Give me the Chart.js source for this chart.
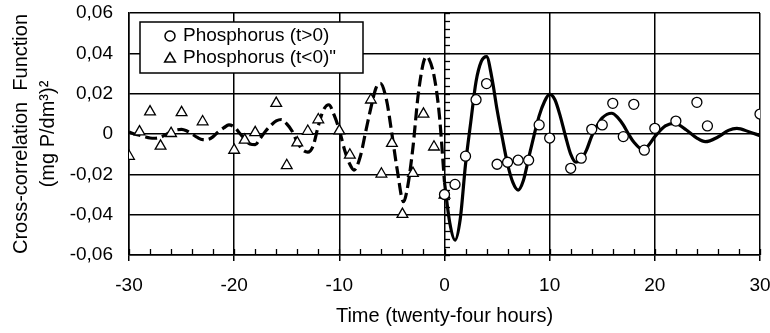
<!DOCTYPE html>
<html><head><meta charset="utf-8">
<script src="https://cdn.jsdelivr.net/npm/chart.js@4/dist/chart.umd.min.js"></script>
<style>html,body{margin:0;padding:0;background:#fff}#wrap{width:770px;height:333px}</style>
</head><body><div id="wrap"><canvas id="c" width="770" height="333"></canvas></div>
<script>
// ---- data ----
const curvePosX = [0,0.5,1,1.5,2,2.5,3,3.5,4,4.5,5,5.5,6,6.5,7,7.5,8,8.5,9,9.5,10,10.5,11,11.5,12,12.5,13,13.5,14,14.5,15,15.9,16.5,17,17.5,18,18.9,19.5,20,21,21.9,23,24,24.8,26,27,27.8,29,30];
const curvePosY = [-0.024,-0.044,-0.0526,-0.042,-0.015,0.006,0.026,0.036,0.0384,0.028,0.012,-0.002,-0.015,-0.024,-0.0278,-0.023,-0.012,-0.001,0.009,0.016,0.0198,0.017,0.009,-0.001,-0.010,-0.014,-0.0125,-0.008,-0.001,0.004,0.008,0.0103,0.008,0.0045,0.0,-0.004,-0.0079,-0.005,-0.0013,0.004,0.0053,0.002,-0.002,-0.0038,-0.0015,0.0018,0.0028,0.001,-0.0008];
const curveNegX = [-30,-29.5,-29,-28.5,-28,-27.5,-27,-26.5,-26,-25.5,-25,-24.5,-24,-23.5,-23,-22.5,-22,-21.5,-21,-20.5,-20,-19.5,-19,-18.5,-18,-17.5,-17,-16.5,-16,-15.5,-15,-14.5,-14,-13.5,-13,-12.5,-12,-11.5,-11,-10.5,-10,-9.5,-9,-8.6,-8,-7.5,-7,-6.5,-6.1,-5.5,-5,-4.5,-3.9,-3.5,-3,-2.5,-2,-1.7,-1.5,-1,-0.5,0];
const curveNegY = [0.001,0.0,-0.0006,-0.0014,-0.002,-0.0021,-0.0016,-0.0003,0.0011,0.002,0.0023,0.0015,0.0,-0.0017,-0.0028,-0.0027,-0.0013,0.0011,0.003,0.0045,0.0035,0.0005,-0.0025,-0.005,-0.0053,-0.002,0.0015,0.0043,0.0065,0.0072,0.005,0.0015,-0.004,-0.0078,-0.009,-0.006,0.004,0.012,0.0145,0.0095,0.002,-0.0079,-0.015,-0.0179,-0.011,0.001,0.013,0.023,0.0251,0.0165,0.0,-0.0176,-0.0336,-0.026,-0.0066,0.0195,0.0355,0.0384,0.0375,0.029,0.010,-0.024];
const circleX = [0,1,2,3,4,5,6,7,8,9,10,12,13,14,15,16,17,18,19,20,22,24,25,30];
const circleY = [-0.030,-0.025,-0.011,0.017,0.025,-0.015,-0.014,-0.013,-0.013,0.0045,-0.002,-0.017,-0.012,0.0023,0.0045,0.0152,-0.0013,0.0147,-0.008,0.0028,0.0064,0.0157,0.004,0.0099];
const triX = [-30,-29,-28,-27,-26,-25,-23,-20,-19,-18,-16,-15,-14,-13,-12,-10,-9,-7,-6,-5,-4,-3,-2,-1,0];
const triY = [-0.011,0.0011,0.011,-0.006,0.0003,0.0106,0.0061,-0.008,-0.003,0.0007,0.0152,-0.0156,-0.0044,0.0014,0.0071,0.0016,-0.0104,0.0169,-0.0198,-0.0046,-0.0398,-0.0195,0.0099,-0.0064,-0.0303];
const xTicks = [-30,-20,-10,0,10,20,30];
const yTicks = [-0.06,-0.04,-0.02,0,0.02,0.04,0.06];
const legendLabels = ['Phosphorus (t>0)', 'Phosphorus (t<0)"'];
const xTitle = 'Time (twenty-four hours)';
const yTitle = ['Cross-correlation  Function', '(mg P/dm\u00B3)\u00B2'];

const pts = (xs, ys) => xs.map((x, i) => ({x: x, y: ys[i]}));
const FONT = "'Liberation Sans', Arial, sans-serif";

const extras = {
  id: 'extras',
  beforeDatasetsDraw(chart) {
    const ctx = chart.ctx, xs = chart.scales.x, ys = chart.scales.y;
    ctx.save();
    ctx.strokeStyle = '#000'; ctx.lineWidth = 1.3;
    const x0 = Math.round(xs.getPixelForValue(0));
    for (let k = -15; k <= 15; k++) {
      const py = Math.round(ys.getPixelForValue(k * 0.004)) + 0.5;
      ctx.beginPath(); ctx.moveTo(x0, py); ctx.lineTo(x0 + 5, py); ctx.stroke();
    }
    const yb = ys.getPixelForValue(-0.06);
    for (let k = -15; k <= 15; k++) {
      const px = Math.round(xs.getPixelForValue(k * 2)) + 0.5;
      ctx.beginPath(); ctx.moveTo(px, yb); ctx.lineTo(px, yb - 6); ctx.stroke();
    }
    ctx.restore();
  },
  afterDatasetsDraw(chart) {
    const ctx = chart.ctx, a = chart.chartArea;
    const bx = a.left + 11, by = a.top + 9, bw = 223, bh = 51;
    ctx.save();
    ctx.fillStyle = '#fff'; ctx.fillRect(bx, by, bw, bh);
    ctx.strokeStyle = '#000'; ctx.lineWidth = 1.5; ctx.strokeRect(bx, by, bw, bh);
    ctx.fillStyle = '#fff'; ctx.strokeStyle = '#000';
    Chart.helpers.drawPoint(ctx, {pointStyle: 'circle', radius: 5, borderWidth: 1.3}, bx + 30, by + 14);
    ctx.fillStyle = '#fff';
    Chart.helpers.drawPoint(ctx, {pointStyle: 'triangle', radius: 6.2, borderWidth: 1.3}, bx + 30, by + 37);
    ctx.fillStyle = '#000';
    ctx.font = '19px ' + FONT; ctx.textBaseline = 'middle'; ctx.textAlign = 'left';
    ctx.fillText(legendLabels[0], bx + 43, by + 14);
    ctx.fillText(legendLabels[1], bx + 43, by + 36);
    ctx.restore();
  }
};

new Chart(document.getElementById('c'), {
  type: 'scatter',
  data: {
    datasets: [
      {label: legendLabels[0], data: pts(circleX, circleY), pointStyle: 'circle', pointRadius: 5,
       pointBorderWidth: 1.3, pointBackgroundColor: '#fff', pointBorderColor: '#000', showLine: false},
      {label: legendLabels[1], data: pts(triX, triY), pointStyle: 'triangle', pointRadius: 6.2,
       pointBorderWidth: 1.3, pointBackgroundColor: '#fff', pointBorderColor: '#000', showLine: false},
      {label: 'fit t>0', data: pts(curvePosX, curvePosY), showLine: true, pointRadius: 0,
       borderColor: '#000', borderWidth: 3.2, cubicInterpolationMode: 'monotone', fill: false},
      {label: 'fit t<0', data: pts(curveNegX, curveNegY), showLine: true, pointRadius: 0,
       borderColor: '#000', borderWidth: 3.2, borderDash: [12, 5], cubicInterpolationMode: 'monotone', fill: false}
    ]
  },
  options: {
    responsive: false, animation: false, devicePixelRatio: 1,
    layout: {padding: {left: 0, right: 10, top: 13, bottom: 0}},
    plugins: {legend: {display: false}, tooltip: {enabled: false}},
    scales: {
      x: {
        type: 'linear', min: -30, max: 30,
        afterBuildTicks: s => { s.ticks = xTicks.map(v => ({value: v})); },
        afterFit: s => { s.height = 78; s.paddingLeft = 0; s.paddingRight = 0; },
        ticks: {color: '#000', font: {family: FONT, size: 19}, padding: 13, maxRotation: 0,
                callback: v => String(v)},
        grid: {color: '#000', lineWidth: 1.5, tickLength: 6, drawTicks: true},
        border: {color: '#000', width: 1.5},
        title: {display: true, text: xTitle, color: '#000', font: {family: FONT, size: 20, lineHeight: 1.0},
                padding: {top: 0, bottom: 7}}
      },
      y: {
        type: 'linear', min: -0.06, max: 0.06,
        afterBuildTicks: s => { s.ticks = yTicks.map(v => ({value: v})); },
        afterFit: s => { s.width = 129; s.paddingTop = 0; s.paddingBottom = 0; },
        ticks: {color: '#000', font: {family: FONT, size: 19}, padding: 16,
                callback: v => Math.abs(v) < 1e-9 ? '0' : v.toFixed(2).replace('.', ',')},
        grid: {color: '#000', lineWidth: 1.5, drawTicks: false},
        border: {color: '#000', width: 1.5},
        title: {display: true, text: yTitle, color: '#000', font: {family: FONT, size: 20, lineHeight: 1.34},
                padding: {top: 8.5, bottom: 0}}
      }
    }
  },
  plugins: [extras]
});
</script>
</body></html>
